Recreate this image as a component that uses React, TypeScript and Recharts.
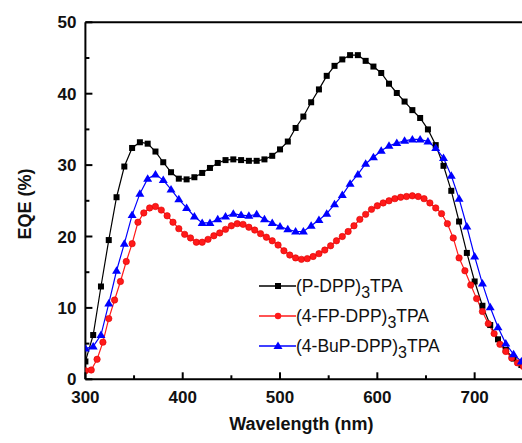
import React from "react";
import {
  LineChart,
  Line,
  XAxis,
  YAxis,
  ReferenceLine,
} from "recharts";

// wavelength grids (nm)
const WL_8 = [
  300, 308, 316, 324, 332, 340, 348, 356, 364, 372, 380, 388, 396, 404, 412,
  420, 428, 436, 444, 452, 460, 468, 476, 484, 492, 500, 508, 516, 524, 532,
  540, 548, 556, 564, 572, 580, 588, 596, 604, 612, 620, 628, 636, 644, 652,
  660, 668, 676, 684, 692, 700, 708, 716, 724, 732, 740, 748,
];
const WL_6 = [
  300, 306, 312, 318, 324, 330, 336, 342, 348, 354, 360, 366, 372, 378, 384,
  390, 396, 402, 408, 414, 420, 426, 432, 438, 444, 450, 456, 462, 468, 474,
  480, 486, 492, 498, 504, 510, 516, 522, 528, 534, 540, 546, 552, 558, 564,
  570, 576, 582, 588, 594, 600, 606, 612, 618, 624, 630, 636, 642, 648, 654,
  660, 666, 672, 678, 684, 690, 696, 702, 708, 714, 720, 726, 732, 738, 744,
  750,
];

// EQE (%)
const P_DPP = [
  2.5, 6.2, 13.0, 19.5, 25.5, 29.8, 32.4, 33.2, 33.0, 31.9, 30.4, 29.0, 28.1,
  28.0, 28.3, 28.9, 29.6, 30.3, 30.7, 30.8, 30.7, 30.6, 30.6, 30.8, 31.3, 32.2,
  33.3, 35.2, 36.8, 38.8, 40.6, 42.5, 43.9, 44.8, 45.4, 45.4, 44.6, 43.8, 42.9,
  41.4, 40.1, 38.9, 37.7, 36.6, 35.0, 32.8, 29.9, 26.4, 22.1, 17.7, 13.7, 10.3,
  7.6, 5.6, 4.1, 2.9, 2.0,
];
const BUP_DPP = [
  4.3, 4.6, 6.2, 10.6, 15.2, 19.0, 23.0, 26.0, 28.1, 28.7, 27.9, 26.6, 25.2,
  24.0, 22.8, 21.9, 21.9, 22.4, 22.8, 23.2, 23.0, 22.9, 23.1, 22.4, 21.9, 21.4,
  21.0, 20.7, 20.7, 21.5, 22.3, 23.2, 24.5, 25.8, 27.4, 28.7, 30.2, 31.1, 32.0,
  32.7, 33.1, 33.4, 33.6, 33.6, 33.3, 32.4, 31.0, 28.5, 25.3, 21.4, 17.2, 13.4,
  10.1, 7.3, 5.0, 3.5, 2.5,
];
const FP_DPP = [
  1.2, 1.3, 2.8, 5.2, 8.5, 11.1, 13.7, 16.5, 19.0, 22.0, 23.3, 24.0, 24.2, 23.7,
  22.9, 22.0, 21.1, 20.3, 19.8, 19.2, 19.2, 19.6, 20.1, 20.5, 21.0, 21.5, 21.8,
  21.7, 21.3, 20.9, 20.4, 19.9, 19.4, 18.8, 18.0, 17.4, 17.0, 16.8, 16.9, 17.2,
  17.6, 18.1, 18.7, 19.4, 20.0, 20.7, 21.5, 22.4, 23.1, 23.8, 24.3, 24.7, 25.0,
  25.3, 25.5, 25.6, 25.7, 25.6, 25.3, 24.7, 24.0, 23.2, 21.8, 19.8, 17.0, 15.2,
  13.2, 11.3, 9.5, 7.8, 6.4, 4.9, 3.9, 3.0, 2.3, 1.8,
];

const X_TICKS = [300, 350, 400, 450, 500, 550, 600, 650, 700, 750];
const Y_TICKS = [0, 5, 10, 15, 20, 25, 30, 35, 40, 45, 50];

const black = WL_8.map((wl, i) => ({ wl, v: P_DPP[i] }));
const blue = WL_8.map((wl, i) => ({ wl, v: BUP_DPP[i] }));
const red = WL_6.map((wl, i) => ({ wl, v: FP_DPP[i] }));

const FONT = "'Liberation Sans', Arial, sans-serif";
const RED = "#ff1a1a";
const BLUE = "#0000ff";

const XTick = (props: any) => {
  const { x, y, payload } = props;
  const major = payload.value % 100 === 0;
  return (
    <g>
      <line x1={x} x2={x} y1={y} y2={y - (major ? 7 : 4)} stroke="#000" strokeWidth={2} />
      {major && (
        <text x={x} y={y + 24} textAnchor="middle" fontFamily={FONT} fontWeight={700} fontSize={17} fill="#111">
          {payload.value}
        </text>
      )}
    </g>
  );
};

const YTick = (props: any) => {
  const { x, y, payload } = props;
  const major = payload.value % 10 === 0;
  return (
    <g>
      <line x1={x} x2={x + (major ? 7 : 4)} y1={y} y2={y} stroke="#000" strokeWidth={2} />
      {major && (
        <text x={x - 9} y={y + 6} textAnchor="end" fontFamily={FONT} fontWeight={700} fontSize={17} fill="#111">
          {payload.value}
        </text>
      )}
    </g>
  );
};

const square = (color: string) => (p: any) =>
  <rect key={`s-${p.index}`} x={p.cx - 3} y={p.cy - 3} width={6} height={6} fill={color} />;

const circle = (color: string) => (p: any) =>
  <circle key={`c-${p.index}`} cx={p.cx} cy={p.cy} r={3.2} fill={color} stroke="#dd0000" strokeWidth={0.6} />;

const triangle = (color: string) => (p: any) => (
  <polygon
    key={`t-${p.index}`}
    points={`${p.cx},${p.cy - 4.5} ${p.cx - 4.5},${p.cy + 3} ${p.cx + 4.5},${p.cy + 3}`}
    fill={color}
  />
);

const LEGEND = [
  { pre: "(P-DPP)", color: "#000", marker: "square" },
  { pre: "(4-FP-DPP)", color: RED, marker: "circle" },
  { pre: "(4-BuP-DPP)", color: BLUE, marker: "triangle" },
];

const ChartLegend = () => (
  <div
    style={{
      position: "absolute",
      left: 259,
      top: 271,
      fontFamily: FONT,
      fontSize: 17.5,
      color: "#111",
    }}
  >
    {LEGEND.map((item) => (
      <div key={item.pre} style={{ display: "flex", alignItems: "center", height: 30 }}>
        <svg width={37} height={14} style={{ flex: "none" }}>
          <line x1={0} x2={37} y1={7} y2={7} stroke={item.color} strokeWidth={1.3} />
          {item.marker === "square" && <rect x={16} y={4} width={6} height={6} fill={item.color} />}
          {item.marker === "circle" && <circle cx={19} cy={7} r={3.2} fill={item.color} />}
          {item.marker === "triangle" && <polygon points="19,2.5 14.5,10 23.5,10" fill={item.color} />}
        </svg>
        <span style={{ whiteSpace: "nowrap" }}>
          {item.pre}
          <span style={{ fontSize: 16, position: "relative", top: 6 }}>3</span>
          TPA
        </span>
      </div>
    ))}
  </div>
);

export default function App() {
  return (
    <div
      style={{
        position: "absolute",
        left: 0,
        top: 0,
        width: 522,
        height: 443,
        overflow: "hidden",
        background: "#fff",
      }}
    >
      <LineChart width={540} height={443} margin={{ top: 22.3, right: 16.7, bottom: 0, left: 0 }}>
        <XAxis
          dataKey="wl"
          type="number"
          domain={[300, 750]}
          ticks={X_TICKS}
          interval={0}
          height={63.7}
          tickSize={0}
          tickMargin={0}
          tickLine={false}
          axisLine={{ stroke: "#000", strokeWidth: 2 }}
          tick={<XTick />}
          allowDataOverflow
          label={{
            value: "Wavelength (nm)",
            position: "insideBottom",
            offset: 13,
            dx: -3,
            style: { fontFamily: FONT, fontWeight: 700, fontSize: 18, fill: "#111" },
          }}
        />
        <YAxis
          type="number"
          domain={[0, 50]}
          ticks={Y_TICKS}
          interval={0}
          width={85.4}
          tickSize={0}
          tickMargin={0}
          tickLine={false}
          axisLine={{ stroke: "#000", strokeWidth: 2 }}
          tick={<YTick />}
          allowDataOverflow
          label={{
            content: () => (
              <text
                x={31}
                y={204}
                transform="rotate(-90 31 204)"
                textAnchor="middle"
                fontFamily={FONT}
                fontWeight={700}
                fontSize={18}
                fill="#111"
              >
                EQE (%)
              </text>
            ),
          }}
        />
        <ReferenceLine y={50} stroke="#000" strokeWidth={2} />
        <ReferenceLine x={750} stroke="#000" strokeWidth={2} />
        <Line
          data={black}
          dataKey="v"
          stroke="#000"
          strokeWidth={1.2}
          dot={square("#000")}
          isAnimationActive={false}
        />
        <Line
          data={red}
          dataKey="v"
          stroke={RED}
          strokeWidth={1.2}
          dot={circle(RED)}
          isAnimationActive={false}
        />
        <Line
          data={blue}
          dataKey="v"
          stroke={BLUE}
          strokeWidth={1.2}
          dot={triangle(BLUE)}
          isAnimationActive={false}
        />
      </LineChart>
      <ChartLegend />
    </div>
  );
}
